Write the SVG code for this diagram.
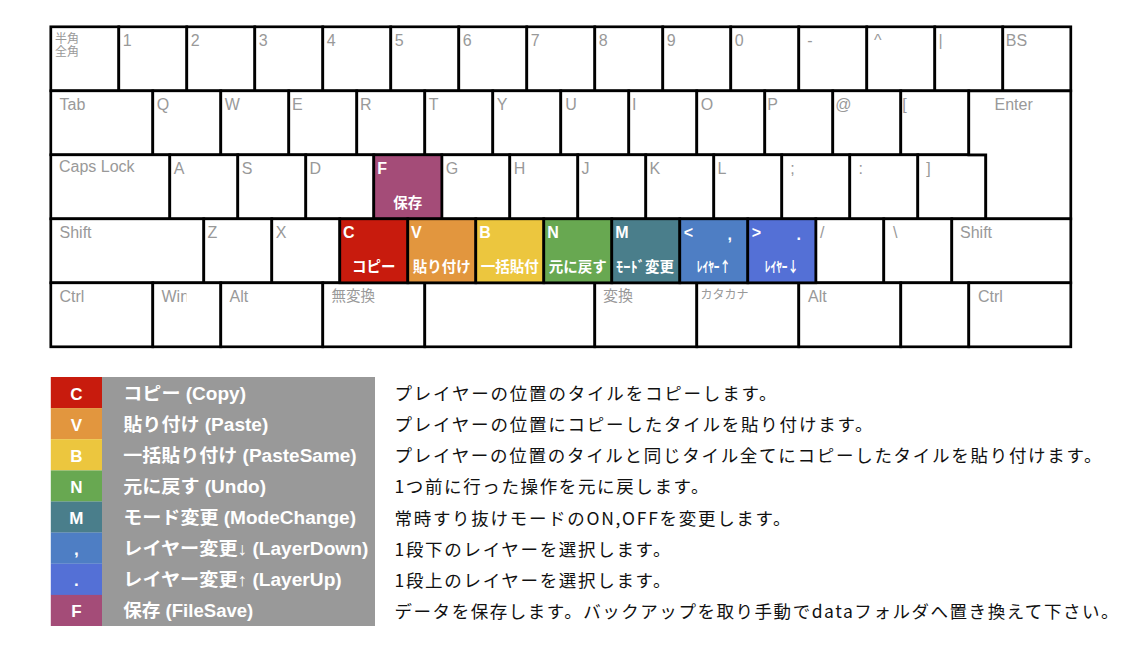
<svg xmlns="http://www.w3.org/2000/svg" width="1122" height="649" viewBox="0 0 1122 649">
<style>
.k{fill:#fff;stroke:#000;stroke-width:2.7}
.lb{font-family:"Liberation Sans",Arial,sans-serif;font-size:16px;fill:#999}
.jp{font-family:"Noto Sans CJK JP",sans-serif;fill:#999}
.wt{font-family:"Liberation Sans","Noto Sans CJK JP",sans-serif;font-weight:bold;fill:#fff;font-size:16px}
.wb{font-family:"Noto Sans CJK JP",sans-serif;font-weight:bold;fill:#fff;font-size:14.5px;text-anchor:middle}
.lg{font-family:"Liberation Sans","Noto Sans CJK JP",sans-serif;font-weight:bold;fill:#fff;font-size:17px;text-anchor:middle}
.ln{font-family:"Liberation Sans","Noto Sans CJK JP",sans-serif;font-weight:bold;fill:#fff;font-size:18px}
.ds{font-family:"Noto Sans CJK JP",sans-serif;fill:#111;font-size:17.5px}
</style>
<defs>
<clipPath id="winclip"><rect x="150" y="283" width="36.5" height="30"/></clipPath>
</defs>
<rect width="1122" height="649" fill="#fff"/>
<g id="keyboard">
<g id="row1">
<g id="k-hankaku"><rect class="k" x="50.8" y="26.8" width="68" height="64"/><text class="jp" font-size="12"><tspan x="55" y="43">半角</tspan><tspan x="55" y="56">全角</tspan></text></g>
<g id="k-1"><rect class="k" x="118.8" y="26.8" width="68" height="64"/><text class="lb" x="122.8" y="45.8">1</text></g>
<g id="k-2"><rect class="k" x="186.8" y="26.8" width="68" height="64"/><text class="lb" x="190.8" y="45.8">2</text></g>
<g id="k-3"><rect class="k" x="254.8" y="26.8" width="68" height="64"/><text class="lb" x="258.8" y="45.8">3</text></g>
<g id="k-4"><rect class="k" x="322.8" y="26.8" width="68" height="64"/><text class="lb" x="326.8" y="45.8">4</text></g>
<g id="k-5"><rect class="k" x="390.8" y="26.8" width="68" height="64"/><text class="lb" x="394.8" y="45.8">5</text></g>
<g id="k-6"><rect class="k" x="458.8" y="26.8" width="68" height="64"/><text class="lb" x="462.8" y="45.8">6</text></g>
<g id="k-7"><rect class="k" x="526.8" y="26.8" width="68" height="64"/><text class="lb" x="530.8" y="45.8">7</text></g>
<g id="k-8"><rect class="k" x="594.8" y="26.8" width="68" height="64"/><text class="lb" x="598.8" y="45.8">8</text></g>
<g id="k-9"><rect class="k" x="662.8" y="26.8" width="68" height="64"/><text class="lb" x="666.8" y="45.8">9</text></g>
<g id="k-0"><rect class="k" x="730.8" y="26.8" width="68" height="64"/><text class="lb" x="734.8" y="45.8">0</text></g>
<g id="k-minus"><rect class="k" x="798.8" y="26.8" width="68" height="64"/><text class="lb" x="807.3" y="45.8">-</text></g>
<g id="k-caret"><rect class="k" x="866.8" y="26.8" width="68" height="64"/><text class="lb" x="874" y="45.8">^</text></g>
<g id="k-yen"><rect class="k" x="934.8" y="26.8" width="68" height="64"/><text class="lb" x="938.6" y="45.8">|</text></g>
<g id="k-bs"><rect class="k" x="1002.8" y="26.8" width="68" height="64"/><text class="lb" x="1005.8" y="45.8">BS</text></g>
</g>
<g id="row2">
<g id="k-tab"><rect class="k" x="50.8" y="90.8" width="102" height="64"/><text class="lb" x="59.5" y="109.8">Tab</text></g>
<g id="k-q"><rect class="k" x="152.8" y="90.8" width="68" height="64"/><text class="lb" x="156.8" y="109.8">Q</text></g>
<g id="k-w"><rect class="k" x="220.8" y="90.8" width="68" height="64"/><text class="lb" x="224.8" y="109.8">W</text></g>
<g id="k-e"><rect class="k" x="288.8" y="90.8" width="68" height="64"/><text class="lb" x="292" y="109.8">E</text></g>
<g id="k-r"><rect class="k" x="356.8" y="90.8" width="68" height="64"/><text class="lb" x="360" y="109.8">R</text></g>
<g id="k-t"><rect class="k" x="424.8" y="90.8" width="68" height="64"/><text class="lb" x="428.8" y="109.8">T</text></g>
<g id="k-y"><rect class="k" x="492.8" y="90.8" width="68" height="64"/><text class="lb" x="496.8" y="109.8">Y</text></g>
<g id="k-u"><rect class="k" x="560.8" y="90.8" width="68" height="64"/><text class="lb" x="565.2" y="109.8">U</text></g>
<g id="k-i"><rect class="k" x="628.8" y="90.8" width="68" height="64"/><text class="lb" x="632" y="109.8">I</text></g>
<g id="k-o"><rect class="k" x="696.8" y="90.8" width="68" height="64"/><text class="lb" x="700.8" y="109.8">O</text></g>
<g id="k-p"><rect class="k" x="764.8" y="90.8" width="68" height="64"/><text class="lb" x="767.3" y="109.8">P</text></g>
<g id="k-at"><rect class="k" x="832.8" y="90.8" width="68" height="64"/><text class="lb" x="835.2" y="109.8">@</text></g>
<g id="k-lbracket"><rect class="k" x="900.8" y="90.8" width="68" height="64"/><text class="lb" x="902.3" y="109.8">[</text></g>
</g>
<g id="row3">
<g id="k-caps"><rect class="k" x="50.8" y="154.8" width="119" height="64"/><text class="lb" font-size="14" x="59" y="171.5">Caps Lock</text></g>
<g id="k-a"><rect class="k" x="169.8" y="154.8" width="68" height="64"/><text class="lb" x="173.8" y="173.8">A</text></g>
<g id="k-s"><rect class="k" x="237.8" y="154.8" width="68" height="64"/><text class="lb" x="241.8" y="173.8">S</text></g>
<g id="k-d"><rect class="k" x="305.8" y="154.8" width="68" height="64"/><text class="lb" x="309.5" y="173.8">D</text></g>
<g id="k-g"><rect class="k" x="441.8" y="154.8" width="68" height="64"/><text class="lb" x="445.8" y="173.8">G</text></g>
<g id="k-h"><rect class="k" x="509.8" y="154.8" width="68" height="64"/><text class="lb" x="513.8" y="173.8">H</text></g>
<g id="k-j"><rect class="k" x="577.8" y="154.8" width="68" height="64"/><text class="lb" x="581.5" y="173.8">J</text></g>
<g id="k-k"><rect class="k" x="645.8" y="154.8" width="68" height="64"/><text class="lb" x="649.5" y="173.8">K</text></g>
<g id="k-l"><rect class="k" x="713.8" y="154.8" width="68" height="64"/><text class="lb" x="717.5" y="173.8">L</text></g>
<g id="k-semicolon"><rect class="k" x="781.8" y="154.8" width="68" height="64"/><text class="lb" x="790.3" y="173.8">;</text></g>
<g id="k-colon"><rect class="k" x="849.8" y="154.8" width="68" height="64"/><text class="lb" x="858.6" y="173.8">:</text></g>
<g id="k-rbracket"><rect class="k" x="917.8" y="154.8" width="68" height="64"/><text class="lb" x="926.3" y="173.8">]</text></g>
<g id="k-enter"><path class="k" d="M968.8,90.8 H1070.8 V218.8 H985.8 V154.8 H968.8 Z"/><text class="lb" x="994.5" y="109.8">Enter</text></g>
</g>
<g id="row4">
<g id="k-lshift"><rect class="k" x="50.8" y="218.8" width="153" height="64"/><text class="lb" x="59.5" y="237.8">Shift</text></g>
<g id="k-z"><rect class="k" x="203.8" y="218.8" width="68" height="64"/><text class="lb" x="207.5" y="237.8">Z</text></g>
<g id="k-x"><rect class="k" x="271.8" y="218.8" width="68" height="64"/><text class="lb" x="275.8" y="237.8">X</text></g>
<g id="k-slash"><rect class="k" x="815.8" y="218.8" width="68" height="64"/><text class="lb" x="820" y="237.8">/</text></g>
<g id="k-backslash"><rect class="k" x="883.8" y="218.8" width="68" height="64"/><text class="lb" x="893" y="237.8">\</text></g>
<g id="k-rshift"><rect class="k" x="951.8" y="218.8" width="119" height="64"/><text class="lb" x="960" y="237.8">Shift</text></g>
</g>
<g id="row5">
<g id="k-lctrl"><rect class="k" x="50.8" y="282.8" width="102" height="64"/><text class="lb" x="59.5" y="301.8">Ctrl</text></g>
<g id="k-win"><rect class="k" x="152.8" y="282.8" width="68" height="64"/><text class="lb" x="161.5" y="301.8" clip-path="url(#winclip)">Win</text></g>
<g id="k-lalt"><rect class="k" x="220.8" y="282.8" width="102" height="64"/><text class="lb" x="229.5" y="301.8">Alt</text></g>
<g id="k-muhenkan"><rect class="k" x="322.8" y="282.8" width="102" height="64"/><text class="jp" font-size="14.5" x="331.5" y="300.5">無変換</text></g>
<g id="k-space"><rect class="k" x="424.8" y="282.8" width="170" height="64"/></g>
<g id="k-henkan"><rect class="k" x="594.8" y="282.8" width="102" height="64"/><text class="jp" font-size="15" x="603" y="300.5">変換</text></g>
<g id="k-katakana"><rect class="k" x="696.8" y="282.8" width="102" height="64"/><text class="jp" font-size="12" x="700.5" y="299.3">カタカナ</text></g>
<g id="k-ralt"><rect class="k" x="798.8" y="282.8" width="102" height="64"/><text class="lb" x="808" y="301.8">Alt</text></g>
<g id="k-blank"><rect class="k" x="900.8" y="282.8" width="68" height="64"/></g>
<g id="k-rctrl"><rect class="k" x="968.8" y="282.8" width="102" height="64"/><text class="lb" x="978" y="301.8">Ctrl</text></g>
</g>
<g id="colored-keys">
<g id="k-f"><rect class="k" style="fill:#a44c78" x="373.8" y="154.8" width="68" height="64"/><text class="wt" x="377.3" y="174.3">F</text><text class="wb" x="407.8" y="207.6">保存</text></g>
<g id="k-c"><rect class="k" style="fill:#c81b0d" x="339.8" y="218.8" width="68" height="64"/><text class="wt" x="343" y="237.5">C</text><text class="wb" x="373.8" y="271.6">コピー</text></g>
<g id="k-v"><rect class="k" style="fill:#e2963e" x="407.8" y="218.8" width="68" height="64"/><text class="wt" x="411" y="237.5">V</text><text class="wb" x="441.8" y="271.6">貼り付け</text></g>
<g id="k-b"><rect class="k" style="fill:#ecc63e" x="475.8" y="218.8" width="68" height="64"/><text class="wt" x="479.3" y="237.5">B</text><text class="wb" x="509.8" y="271.6">一括貼付</text></g>
<g id="k-n"><rect class="k" style="fill:#68a851" x="543.8" y="218.8" width="68" height="64"/><text class="wt" x="547.3" y="237.5">N</text><text class="wb" x="577.8" y="271.6">元に戻す</text></g>
<g id="k-m"><rect class="k" style="fill:#4a7e8b" x="611.8" y="218.8" width="68" height="64"/><text class="wt" x="615.3" y="237.5">M</text><text class="wb" x="645" y="271.6">ﾓｰﾄﾞ変更</text></g>
<g id="k-comma"><rect class="k" style="fill:#4e7ec4" x="679.8" y="218.8" width="68" height="64"/><text class="wt" x="683.8" y="237.5">&lt;</text><text class="wt" x="727.5" y="240">,</text><text class="wb" x="713.8" y="271.6" textLength="34" lengthAdjust="spacingAndGlyphs">ﾚｲﾔｰ↑</text></g>
<g id="k-period"><rect class="k" style="fill:#5470d6" x="747.8" y="218.8" width="68" height="64"/><text class="wt" x="751.8" y="237.5">&gt;</text><text class="wt" x="796.5" y="240">.</text><text class="wb" x="781.8" y="271.6" textLength="34" lengthAdjust="spacingAndGlyphs">ﾚｲﾔｰ↓</text></g>
</g>
</g>
<g id="legend">
<rect x="102" y="377" width="273" height="249" fill="#999"/>
<g id="lg-c"><rect x="50.8" y="377" width="51.2" height="31.2" fill="#c81b0d"/><text class="lg" x="76.4" y="399.5">C</text><text class="ln" x="123.3" y="399.5" textLength="122.7" lengthAdjust="spacingAndGlyphs">コピー (Copy)</text><text class="ds" x="394.5" y="400" textLength="382" lengthAdjust="spacing">プレイヤーの位置のタイルをコピーします。</text></g>
<g id="lg-v"><rect x="50.8" y="408.1" width="51.2" height="31.2" fill="#e2963e"/><text class="lg" x="76.4" y="430.6">V</text><text class="ln" x="123.3" y="430.6" textLength="145" lengthAdjust="spacingAndGlyphs">貼り付け (Paste)</text><text class="ds" x="394.5" y="431.1" textLength="478" lengthAdjust="spacing">プレイヤーの位置にコピーしたタイルを貼り付けます。</text></g>
<g id="lg-b"><rect x="50.8" y="439.2" width="51.2" height="31.2" fill="#ecc63e"/><text class="lg" x="76.4" y="461.7">B</text><text class="ln" x="123.3" y="461.7" textLength="233.4" lengthAdjust="spacingAndGlyphs">一括貼り付け (PasteSame)</text><text class="ds" x="394.5" y="462.2" textLength="707" lengthAdjust="spacing">プレイヤーの位置のタイルと同じタイル全てにコピーしたタイルを貼り付けます。</text></g>
<g id="lg-n"><rect x="50.8" y="470.4" width="51.2" height="31.2" fill="#68a851"/><text class="lg" x="76.4" y="492.9">N</text><text class="ln" x="123.3" y="492.9" textLength="142.7" lengthAdjust="spacingAndGlyphs">元に戻す (Undo)</text><text class="ds" x="394.5" y="493.4" textLength="314" lengthAdjust="spacing">1つ前に行った操作を元に戻します。</text></g>
<g id="lg-m"><rect x="50.8" y="501.5" width="51.2" height="31.2" fill="#4a7e8b"/><text class="lg" x="76.4" y="524">M</text><text class="ln" x="123.3" y="524" textLength="232.7" lengthAdjust="spacingAndGlyphs">モード変更 (ModeChange)</text><text class="ds" x="394.5" y="524.5" textLength="396" lengthAdjust="spacing">常時すり抜けモードのON,OFFを変更します。</text></g>
<g id="lg-comma"><rect x="50.8" y="532.6" width="51.2" height="31.2" fill="#4e7ec4"/><text class="lg" x="76.4" y="555.1">,</text><text class="ln" x="123.3" y="555.1" textLength="245" lengthAdjust="spacingAndGlyphs">レイヤー変更↓ (LayerDown)</text><text class="ds" x="394.5" y="555.6" textLength="276" lengthAdjust="spacing">1段下のレイヤーを選択します。</text></g>
<g id="lg-period"><rect x="50.8" y="563.8" width="51.2" height="31.2" fill="#5470d6"/><text class="lg" x="76.4" y="586.3">.</text><text class="ln" x="123.3" y="586.3" textLength="218.4" lengthAdjust="spacingAndGlyphs">レイヤー変更↑ (LayerUp)</text><text class="ds" x="394.5" y="586.8" textLength="276" lengthAdjust="spacing">1段上のレイヤーを選択します。</text></g>
<g id="lg-f"><rect x="50.8" y="594.9" width="51.2" height="31.1" fill="#a44c78"/><text class="lg" x="76.4" y="617.4">F</text><text class="ln" x="123.3" y="617.4" textLength="130" lengthAdjust="spacingAndGlyphs">保存 (FileSave)</text><text class="ds" x="394.5" y="617.9" textLength="724" lengthAdjust="spacing">データを保存します。バックアップを取り手動でdataフォルダへ置き換えて下さい。</text></g>
</g>
</svg>
